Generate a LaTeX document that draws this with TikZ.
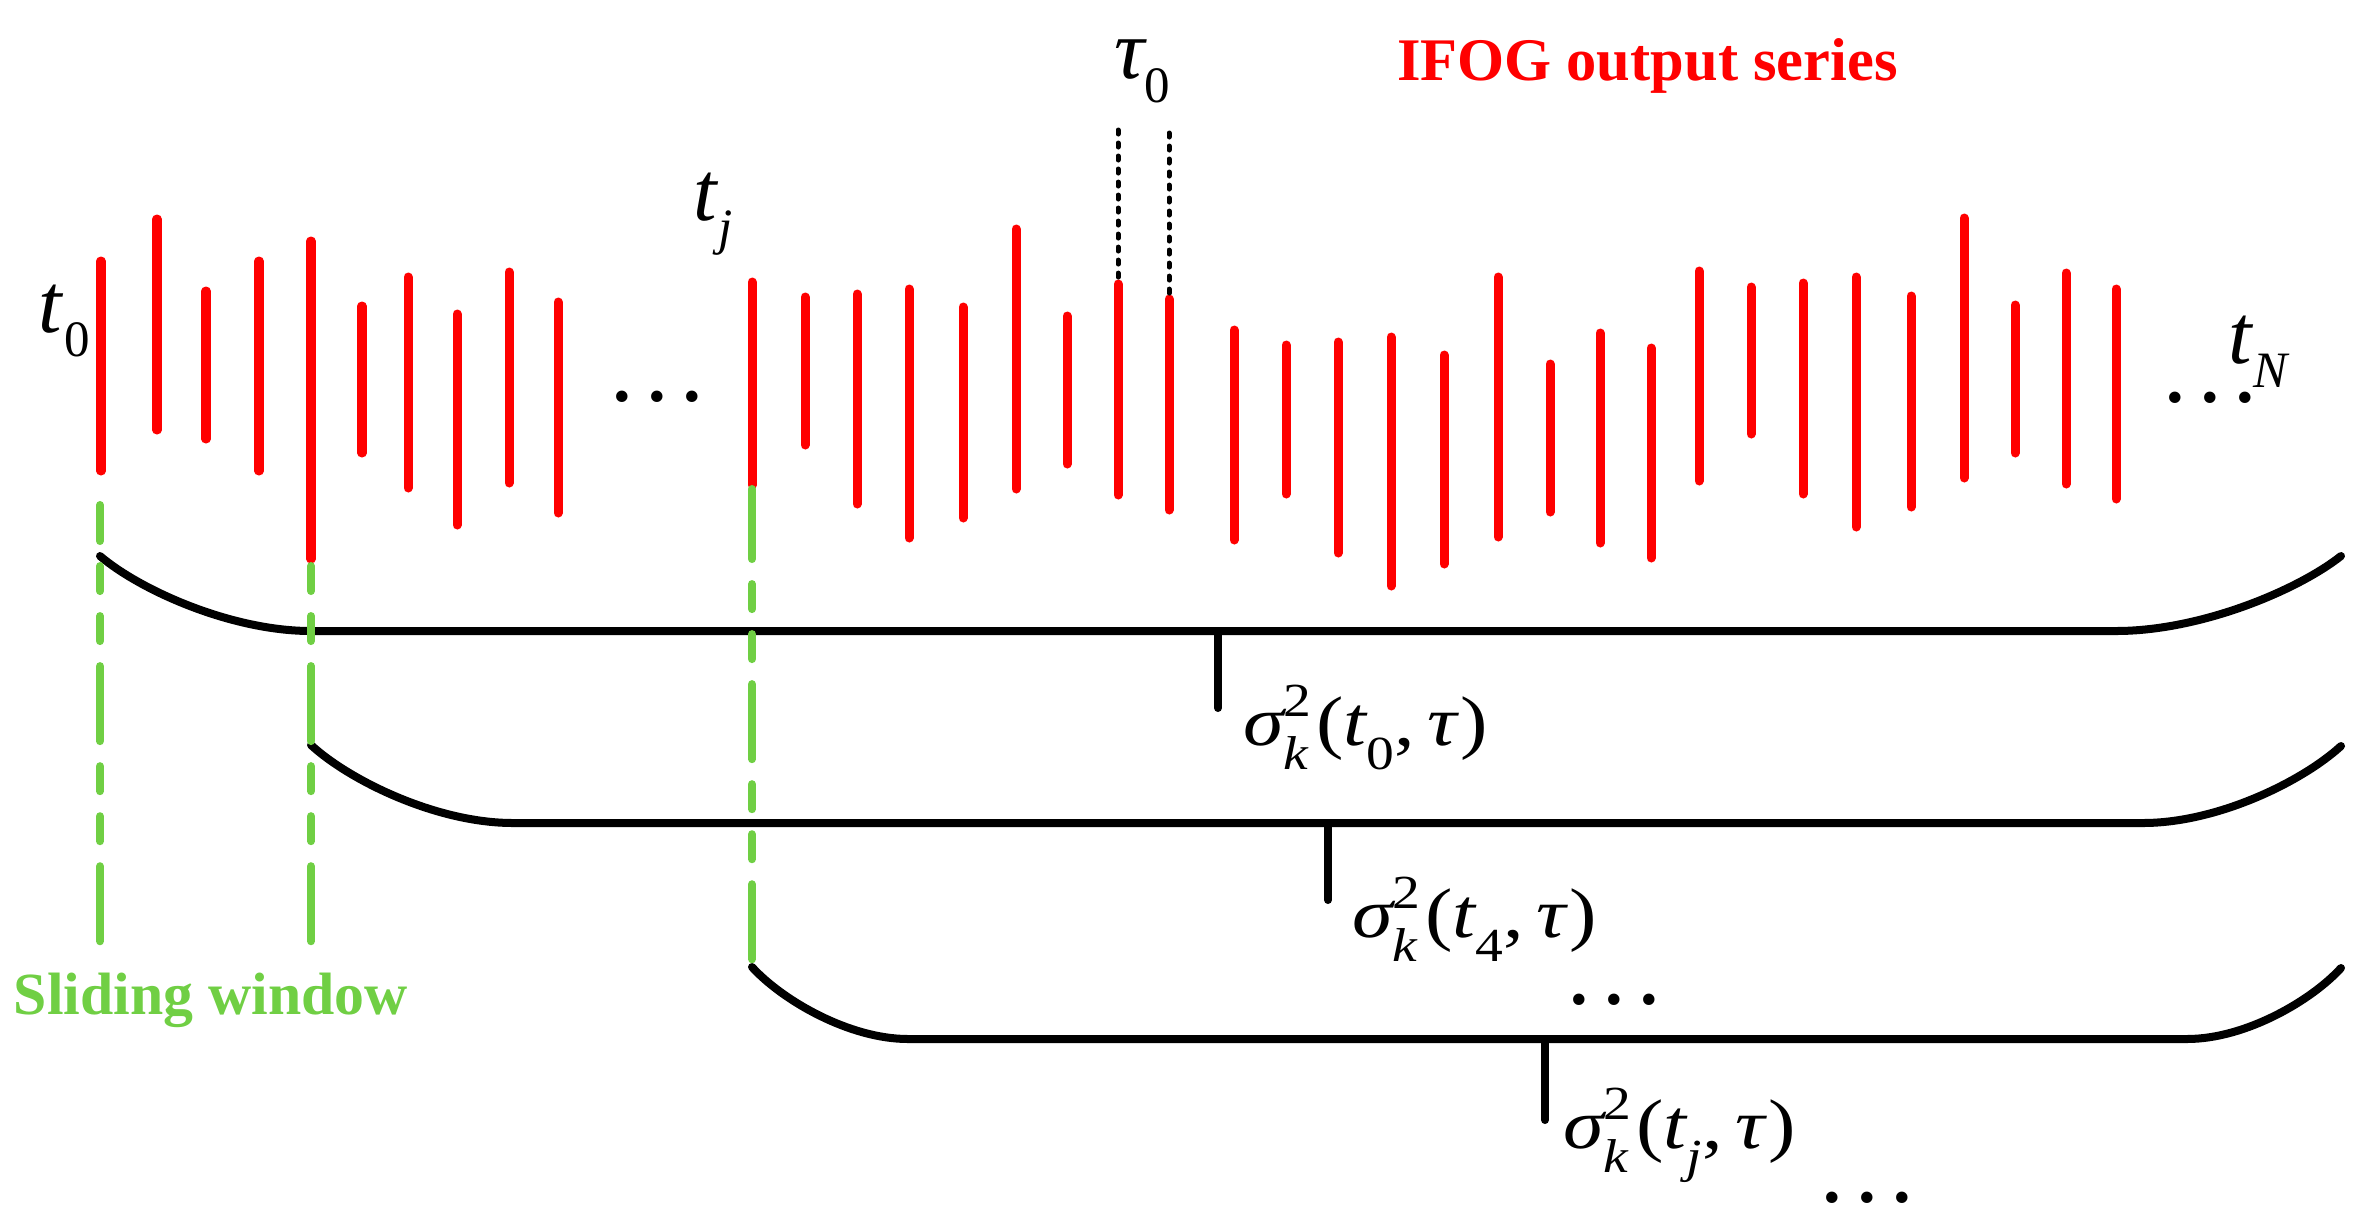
\documentclass[tikz,border=0pt]{standalone}
\usepackage{fontspec}
\usepackage{graphicx}
\setmainfont{Liberation Serif}
\definecolor{ired}{RGB}{255,0,0}
\definecolor{igreen}{RGB}{112,207,68}
\newcommand\fsz[1]{\fontsize{#1}{#1}\selectfont}
\newcommand\msub[3]{{\fsz{24}\itshape #1}\kern #2\raisebox{-7pt}{\fsz{14.5}#3}}
\newcommand\siglab[1]{\scalebox{1.17}[1]{\fsz{20}\itshape σ\rlap{\raisebox{8pt}{\fsz{13.5}\upshape 2}}\raisebox{-7pt}{\fsz{13.5}k}\kern2pt{\upshape(}t\raisebox{-7pt}{\fsz{13.5}#1}{\upshape,}\kern3pt τ\kern1pt{\upshape)}}}
\newcommand\tdots{\makebox[9.9pt]{.}\makebox[9.9pt]{.}\makebox[4.95pt][r]{\makebox[0pt]{.}}}
\tikzset{
  redbar/.style={draw=ired, line width=0.09cm, line cap=round, shorten <=0.04cm, shorten >=0.04cm},
  greendash/.style={draw=igreen, line width=0.08cm, line cap=round,
     dash pattern=on 0.75cm off 0.25cm on 0.25cm off 0.25cm on 0.25cm off 0.25cm},
  bracket/.style={draw=black, line width=0.08cm, line cap=round},
  tickline/.style={draw=black, line width=0.08cm, line cap=round},
  taudash/.style={draw=black, line width=0.05cm, line cap=round, dash pattern=on 0.04cm off 0.09cm},
  lbl/.style={anchor=base west, inner sep=0pt, outer sep=0pt},
  dotlbl/.style={lbl, font=\fsz{20}\bfseries},
}
\begin{document}
\begin{tikzpicture}[x=0.01cm, y=-0.01cm]
\useasboundingbox (0,0) rectangle (2353,1214);

% red output series
\foreach \x/\a/\b in {101/257/475, 157/215/434, 206/287/443, 259/257/475, 311/237/563,
  362/302/457, 408/273/492, 457/310/529, 509/268/487, 558/298/517,
  752/278/489, 805/293/449, 857/290/508, 909/285/542, 963/303/522, 1016/225/493,
  1067/312/468, 1118/280/499, 1169/295/514, 1234/326/544, 1286/341/498, 1338/338/557,
  1391/333/590, 1444/351/568, 1498/273/541, 1550/360/516, 1600/329/547, 1651/344/562,
  1699/267/485, 1751/283/438, 1803/279/498, 1856/273/531, 1911/292/511, 1964/214/482,
  2015/301/457, 2066/269/488, 2116/285/503}
  \draw[redbar] (\x,\a) -- (\x,\b);

% tau_0 marks
\coordinate (ta1) at (1118,130);
\coordinate (tb1) at (1118,280);
\coordinate (ta2) at (1169,133);
\coordinate (tb2) at (1169,295);
\draw[taudash] (ta1) -- (tb1);
\draw[taudash] (ta2) -- (tb2);

% brackets
\draw[bracket] (100,556) .. controls (140,590) and (231,631) .. (311,631) -- (2116,631)
  .. controls (2201,631) and (2298,590) .. (2341,556);
\draw[bracket] (311,745) .. controls (349,780) and (436,823) .. (513,823) -- (2143,823)
  .. controls (2218,823) and (2303,781) .. (2341,746);
\draw[bracket] (752,967) .. controls (782,1000) and (849,1039) .. (908,1039) -- (2187,1039)
  .. controls (2246,1039) and (2312,1000) .. (2341,968);

% ticks and labels
\coordinate (k1) at (1218,631);
\coordinate (k1e) at (1218,708);
\coordinate (k2) at (1328,823);
\coordinate (k2e) at (1328,900);
\coordinate (k3) at (1545,1039);
\coordinate (k3e) at (1545,1120);
\draw[tickline] (k1) -- (k1e);
\draw[tickline] (k2) -- (k2e);
\draw[tickline] (k3) -- (k3e);
\node[lbl] (s0) at (1243,745) {\siglab{\upshape 0}};
\node[lbl] (s4) at (1352,937) {\siglab{\upshape 4}};
\node[lbl] (sj) at (1563,1148) {\siglab{j}};

% green sliding window lines
\coordinate (g1a) at (100,505);
\coordinate (g1b) at (100,944);
\coordinate (g2a) at (311,563);
\coordinate (g2b) at (311,944);
\coordinate (g3a) at (752,489);
\coordinate (g3b) at (752,962);
\draw[greendash, dash phase=0.39cm] (g1a) -- (g1b);
\draw[greendash, dash phase=0.97cm] (g2a) -- (g2b);
\draw[greendash, dash phase=0.05cm] (g3a) -- (g3b);

% text labels
\node[lbl] (t0) at (38,332) {\msub{t}{1pt}{0}};
\node[lbl] (tj) at (693,220) {\msub{t}{0.5pt}{\itshape j}};
\node[lbl] (tN) at (2228,363) {\msub{t}{0.5pt}{\itshape N}};
\node[lbl] (tau0) at (1114,78) {\msub{τ}{0pt}{0}};
\node[lbl, text=ired, font=\fsz{17.2}\bfseries] (title) at (1397,80) {IFOG output series};
\node[lbl, text=igreen, font=\fsz{17}\bfseries] (sw) at (14,1014) {Sliding window};

\node[dotlbl] (d1) at (605,401) {\tdots};
\node[dotlbl] (d2) at (2158,402) {\tdots};
\node[dotlbl] (d3) at (1562,1004) {\tdots};
\node[dotlbl] (d4) at (1815,1202) {\tdots};
\end{tikzpicture}
\end{document}
